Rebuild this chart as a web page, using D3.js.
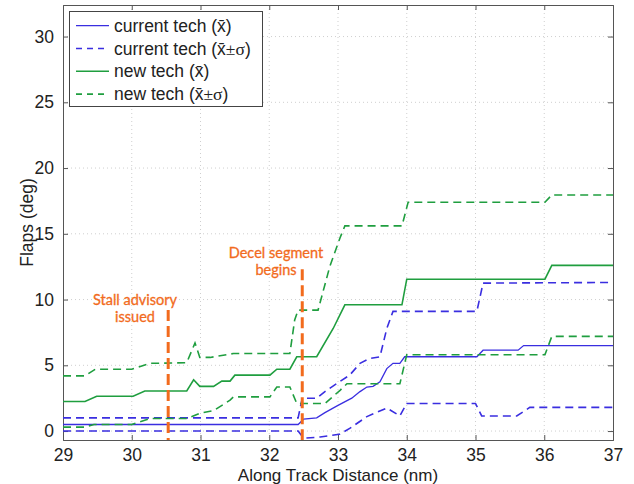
<!DOCTYPE html>
<html>
<head>
<meta charset="utf-8">
<script src="https://cdn.jsdelivr.net/npm/d3@7"></script>
<style>
  body { margin: 0; background: #fff; }
  svg { display: block; font-family: "Liberation Sans", Arial, sans-serif; }
</style>
</head>
<body>
<div id="chart"></div>
<script>
// Flaps vs along track distance
const xTicks = [29, 30, 31, 32, 33, 34, 35, 36, 37];
const yTicks = [0, 5, 10, 15, 20, 25, 30];

// current tech mean
const curMeanX = [29, 32.42, 32.5, 32.69, 32.81, 33.0, 33.2, 33.32, 33.42, 33.51, 33.61, 33.71, 33.8, 33.9, 33.97, 35.02, 35.11, 35.62, 35.7, 37];
const curMeanY = [0.5, 0.5, 0.9, 1.0, 1.4, 1.95, 2.5, 3.0, 3.35, 3.4, 3.75, 4.75, 5.15, 5.15, 5.65, 5.65, 6.15, 6.15, 6.5, 6.5];
// current tech mean + sigma
const curUpX = [29, 32.42, 32.48, 32.69, 32.81, 33.02, 33.17, 33.32, 33.45, 33.61, 33.71, 33.8, 35.02, 35.11, 37];
const curUpY = [1.0, 1.0, 2.5, 2.5, 3.0, 3.75, 4.25, 5.15, 5.5, 5.65, 7.8, 9.1, 9.1, 11.25, 11.3];
// current tech mean - sigma
const curLoX = [29, 32.42, 32.5, 32.74, 33.02, 33.17, 33.42, 33.71, 33.9, 34.0, 35.0, 35.09, 35.6, 35.79, 37];
const curLoY = [0, 0, -0.55, -0.45, -0.25, 0.2, 1.1, 1.75, 1.15, 2.1, 2.1, 1.15, 1.15, 1.8, 1.8];

// new tech mean
const newMeanX = [29, 29.32, 29.49, 30.02, 30.19, 30.8, 30.9, 30.99, 31.19, 31.31, 31.43, 31.5, 32.01, 32.11, 32.3, 32.4, 32.69, 32.93, 33.1, 33.93, 34.0, 36.01, 36.11, 37];
const newMeanY = [2.25, 2.25, 2.65, 2.65, 3.05, 3.05, 3.9, 3.4, 3.4, 3.8, 3.8, 4.25, 4.25, 4.7, 4.7, 5.65, 5.65, 7.8, 9.6, 9.6, 11.55, 11.55, 12.6, 12.6];
// new tech mean + sigma
const newUpX = [29, 29.32, 29.47, 30.0, 30.27, 30.8, 30.92, 30.99, 31.14, 31.48, 32.3, 32.37, 32.42, 32.71, 32.88, 33.03, 33.1, 33.93, 34.02, 36.01, 36.11, 37];
const newUpY = [4.2, 4.2, 4.7, 4.7, 5.15, 5.2, 6.7, 5.6, 5.6, 5.9, 5.9, 8.45, 9.2, 9.2, 12.5, 14.7, 15.6, 15.6, 17.4, 17.4, 17.95, 17.95];
// new tech mean - sigma
const newLoX = [29, 29.32, 29.45, 30.0, 30.27, 30.8, 30.99, 31.19, 31.43, 31.48, 32.01, 32.11, 32.3, 32.4, 32.81, 33.03, 33.13, 33.9, 34.0, 36.01, 36.11, 37];
const newLoY = [0.3, 0.3, 0.5, 0.5, 0.95, 0.95, 1.35, 1.55, 2.35, 2.6, 2.6, 3.35, 3.35, 2.1, 2.1, 3.1, 3.6, 3.6, 5.8, 5.8, 7.2, 7.2];

// event markers
const eventX = [30.53, 32.48];
const eventTop = [9.2, 12.3];
const eventText = [["Stall advisory", "issued"], ["Decel segment", "begins"]];

const BLUE = '#3a2ee0';
const GREEN = '#1f9e3f';
const ORANGE = '#f26b1d';

const width = 634, height = 484;
const margin = { top: 5, right: 21, bottom: 44, left: 63 };
const iw = width - margin.left - margin.right;
const ih = height - margin.top - margin.bottom;

const svg = d3.select('#chart').append('svg')
    .attr('width', width)
    .attr('height', height);

const g = svg.append('g').attr('transform', `translate(${margin.left},${margin.top})`);

const x = d3.scaleLinear().domain([29, 37]).range([0, iw]);
const y = d3.scaleLinear().domain([-0.68, 32.4]).range([ih, 0]);

// grid
g.append('g').selectAll('line').data(xTicks.slice(1, -1)).join('line')
    .attr('x1', d => x(d)).attr('x2', d => x(d))
    .attr('y1', 0).attr('y2', ih)
    .attr('stroke', '#cfcfcf').attr('stroke-dasharray', '1,3');
g.append('g').selectAll('line').data(yTicks).join('line')
    .attr('x1', 0).attr('x2', iw)
    .attr('y1', d => y(d)).attr('y2', d => y(d))
    .attr('stroke', '#cfcfcf').attr('stroke-dasharray', '1,3');

// axes (matlab style: inward ticks on all sides)
const fontSize = '17.5px';
const xAxis = g.append('g').attr('transform', `translate(0,${ih})`)
    .call(d3.axisBottom(x).tickValues(xTicks).tickSize(-5).tickPadding(9).tickFormat(d3.format('d')));
const xTop = g.append('g')
    .call(d3.axisTop(x).tickValues(xTicks).tickSize(-5).tickFormat(''));
const yAxis = g.append('g')
    .call(d3.axisLeft(y).tickValues(yTicks).tickSize(-5).tickPadding(9).tickFormat(d3.format('d')));
const yRight = g.append('g').attr('transform', `translate(${iw},0)`)
    .call(d3.axisRight(y).tickValues(yTicks).tickSize(-5).tickFormat(''));

[xAxis, xTop, yAxis, yRight].forEach(a => {
    a.select('.domain').attr('stroke', '#555');
    a.selectAll('.tick line').attr('stroke', '#555');
    a.selectAll('.tick text').attr('fill', '#222').attr('font-size', fontSize)
        .attr('font-family', '"Liberation Sans", Arial, sans-serif');
});
xAxis.selectAll('.tick line').filter((d, i, n) => i === 0 || i === n.length - 1).remove();
xTop.selectAll('.tick line').filter((d, i, n) => i === 0 || i === n.length - 1).remove();

// series
const line = d3.line().x(d => x(d[0])).y(d => y(d[1]));
const series = [
    { xs: curMeanX, ys: curMeanY, color: BLUE, dash: null, w: 1.3 },
    { xs: curUpX, ys: curUpY, color: BLUE, dash: '8,5', w: 1.6 },
    { xs: curLoX, ys: curLoY, color: BLUE, dash: '8,5', w: 1.6 },
    { xs: newMeanX, ys: newMeanY, color: GREEN, dash: null, w: 1.6 },
    { xs: newUpX, ys: newUpY, color: GREEN, dash: '8,5', w: 1.6 },
    { xs: newLoX, ys: newLoY, color: GREEN, dash: '8,5', w: 1.6 }
];
svg.append('defs').append('clipPath').attr('id', 'plotclip')
    .append('rect').attr('width', iw).attr('height', ih);
const lines = g.append('g').attr('clip-path', 'url(#plotclip)');
series.forEach(s => {
    lines.append('path')
        .datum(s.xs.map((v, i) => [v, s.ys[i]]))
        .attr('d', line)
        .attr('fill', 'none')
        .attr('stroke', s.color)
        .attr('stroke-width', s.w)
        .attr('stroke-dasharray', s.dash);
});

// event markers
eventX.forEach((ev, i) => {
    g.append('line')
        .attr('x1', x(ev)).attr('x2', x(ev))
        .attr('y1', y(eventTop[i])).attr('y2', ih)
        .attr('stroke', ORANGE).attr('stroke-width', 3)
        .attr('stroke-dasharray', '11,5');
});
const labelPos = [[135 - margin.left, 305 - margin.top], [276 - margin.left, 258 - margin.top]];
eventText.forEach((txt, i) => {
    const t = g.append('text')
        .attr('text-anchor', 'middle')
        .attr('fill', ORANGE)
        .attr('font-family', 'Lato, "Open Sans", sans-serif')
        .attr('font-size', '14.5px')
        .attr('stroke', ORANGE).attr('stroke-width', 0.3);
    txt.forEach((s, j) => {
        t.append('tspan')
            .attr('x', labelPos[i][0])
            .attr('y', labelPos[i][1] + j * 17)
            .text(s);
    });
});

// legend
const legend = svg.append('g');
legend.append('rect')
    .attr('x', 69.5).attr('y', 11.5).attr('width', 193).attr('height', 95)
    .attr('fill', '#fff').attr('stroke', '#444').attr('stroke-width', 1);
const legendItems = [
    { label: 'current tech (', pm: false, color: BLUE, dash: null, w: 1.3 },
    { label: 'current tech (', pm: true, color: BLUE, dash: '6,5', w: 1.6 },
    { label: 'new tech (', pm: false, color: GREEN, dash: null, w: 1.6 },
    { label: 'new tech (', pm: true, color: GREEN, dash: '6,5', w: 1.6 }
];
legendItems.forEach((it, i) => {
    const cy = 25.7 + i * 22.8;
    legend.append('line')
        .attr('x1', 76).attr('x2', 109).attr('y1', cy).attr('y2', cy)
        .attr('stroke', it.color).attr('stroke-width', it.w)
        .attr('stroke-dasharray', it.dash);
    const t = legend.append('text')
        .attr('x', 114).attr('y', cy + 6)
        .attr('font-size', fontSize).attr('fill', '#222');
    t.append('tspan').text(it.label);
    t.append('tspan').text('x\u0304');
    if (it.pm) {
        t.append('tspan').attr('font-family', '"Liberation Serif", serif').text('\u00b1\u03c3');
    }
    t.append('tspan').text(')');
});

// axis labels
svg.append('text')
    .attr('x', margin.left + iw / 2).attr('y', 481)
    .attr('text-anchor', 'middle')
    .attr('font-size', '17px').attr('fill', '#222')
    .text('Along Track Distance (nm)');
svg.append('text')
    .attr('transform', `translate(33,${margin.top + ih / 2}) rotate(-90)`)
    .attr('text-anchor', 'middle')
    .attr('font-size', fontSize).attr('fill', '#222')
    .text('Flaps (deg)');
</script>
</body>
</html>
